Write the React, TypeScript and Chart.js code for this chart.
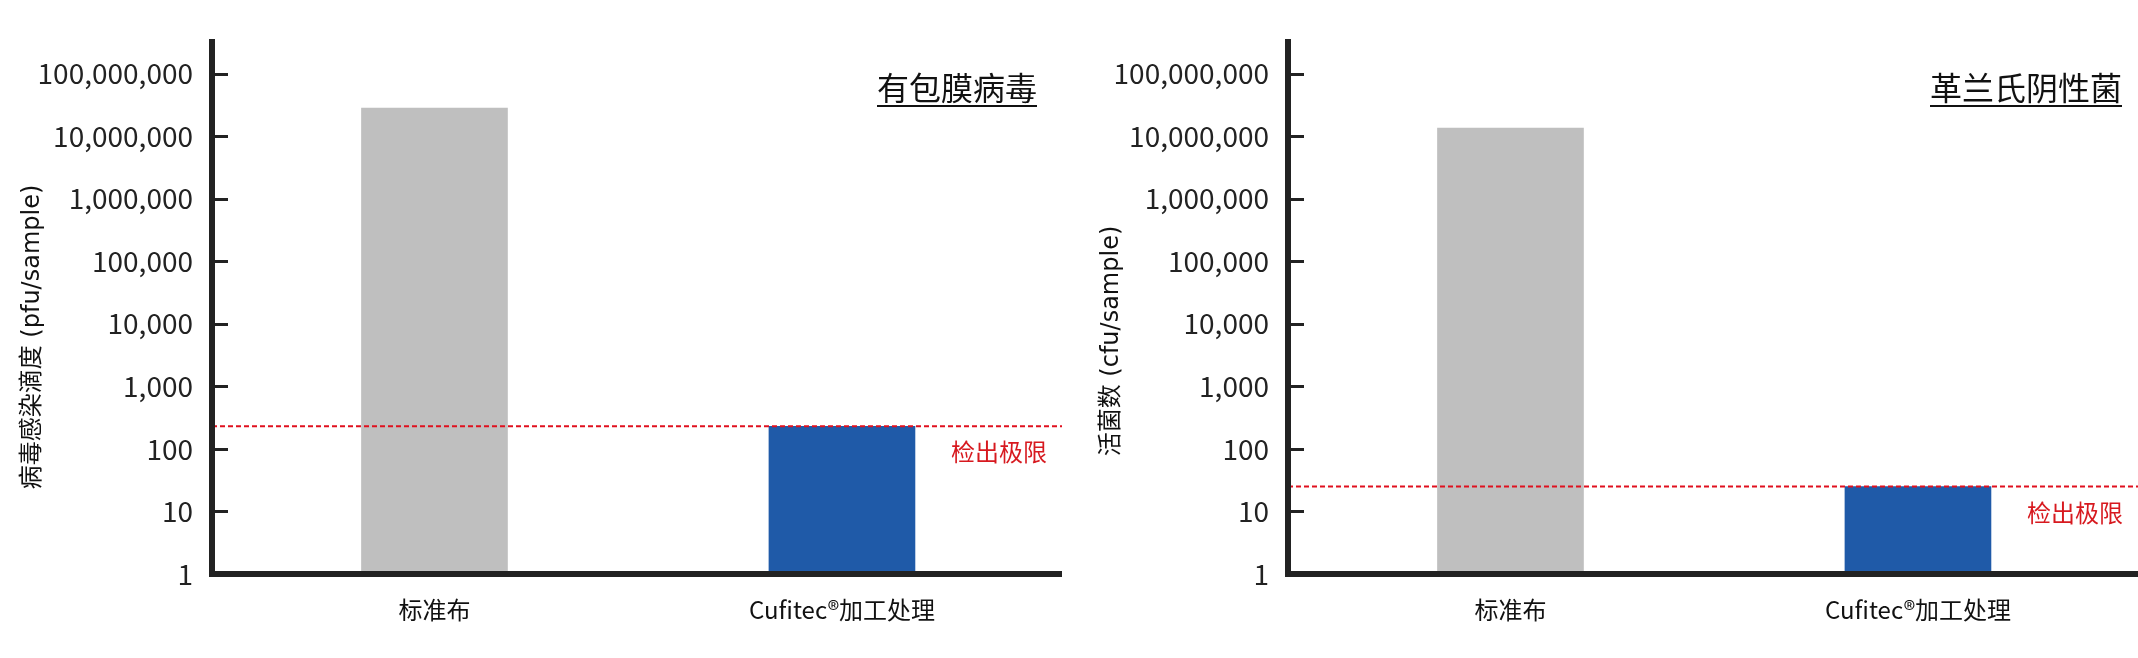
import { useEffect, useRef } from "react"
import { Chart, registerables } from "chart.js"

Chart.register(...registerables)

const CJK = "'Noto Sans CJK SC', sans-serif"
Chart.defaults.font.family = CJK

// data
const categories = ["标准布", "Cufitec®加工处理"]
const virusValues = [2.8e7, 230]
const bacteriaValues = [1.35e7, 25]
const virusLimit = 230
const bacteriaLimit = 25
const yTicks = [1, 10, 100, 1000, 10000, 100000, 1000000, 10000000, 100000000]
const yMax = 3.2e8
const xMin = -0.546
const xMax = 1.54

const barColors = ["#bfbfbf", "#1f5aa8"]
const axisColor = "#222222"
const limitColor = "#e0101e"

interface PanelProps {
  title: string
  yLabel: string
  values: number[]
  limit: number
  left: number
  titleRight: number
  labelX: number
  labelY: number
}

function Panel({ title, yLabel, values, limit, left, titleRight, labelX, labelY }: PanelProps) {
  const canvasRef = useRef<HTMLCanvasElement>(null)

  useEffect(() => {
    if (!canvasRef.current) return
    const ctx = canvasRef.current.getContext("2d")
    if (!ctx) return

    const decorations = {
      id: "decorations",
      afterDraw(chart: Chart) {
        const c = chart.ctx
        const area = chart.chartArea
        const y = chart.scales.y
        c.save()
        // inward tick marks
        c.strokeStyle = axisColor
        c.lineWidth = 3
        yTicks.forEach((v) => {
          if (v === 1) return
          const py = Math.round(y.getPixelForValue(v)) + 0.5
          c.beginPath()
          c.moveTo(area.left, py)
          c.lineTo(area.left + 16, py)
          c.stroke()
        })
        // panel title, underlined
        c.fillStyle = "#111"
        c.font = `32px ${CJK}`
        c.textAlign = "right"
        c.textBaseline = "middle"
        c.fillText(title, titleRight, 88)
        const w = c.measureText(title).width
        c.fillRect(titleRight - w, 105, w, 2)
        // detection limit label
        c.fillStyle = "#d7191f"
        c.font = `24px ${CJK}`
        c.fillText("检出极限", 1047, y.getPixelForValue(limit) + 26)
        // y axis label
        c.translate(labelX, labelY)
        c.rotate(-Math.PI / 2)
        c.textAlign = "center"
        c.fillStyle = "#111"
        c.font = `24px 'DejaVu Sans', ${CJK}`
        c.fillText(yLabel, 0, 0)
        c.restore()
      },
    }

    const chart = new Chart(ctx, {
      type: "bar",
      data: {
        datasets: [
          {
            type: "line",
            data: [
              { x: xMin, y: limit },
              { x: xMax, y: limit },
            ],
            borderColor: limitColor,
            borderWidth: 2,
            borderDash: [5, 3],
            pointRadius: 0,
            order: 0,
          },
          {
            type: "bar",
            data: values.map((v, i) => ({ x: i, y: v })),
            backgroundColor: barColors,
            barThickness: 146,
            order: 1,
          },
        ] as any,
      },
      options: {
        responsive: false,
        animation: false,
        layout: { padding: { top: 42, left: 0, right: 0, bottom: 0 } },
        plugins: {
          legend: { display: false },
          tooltip: { enabled: false },
        },
        scales: {
          x: {
            type: "linear",
            min: xMin,
            max: xMax,
            offset: false,
            grid: { display: false, drawTicks: false, offset: false },
            border: { display: true, color: axisColor, width: 6, z: 1 },
            afterBuildTicks: (s: any) => {
              s.ticks = categories.map((_, i) => ({ value: i }))
            },
            afterFit: (s: any) => {
              s.height = 84
            },
            ticks: {
              autoSkip: false,
              maxRotation: 0,
              padding: 21,
              color: "#111",
              font: { size: 24, family: CJK },
              callback: (v: any) => categories[v] ?? "",
            },
          },
          y: {
            type: "logarithmic",
            min: 1,
            max: yMax,
            grid: { display: false, drawTicks: false },
            border: { display: true, color: axisColor, width: 6, z: 1 },
            afterBuildTicks: (s: any) => {
              s.ticks = yTicks.map((v) => ({ value: v }))
            },
            afterFit: (s: any) => {
              s.width = 212
            },
            ticks: {
              padding: 19,
              color: "#222",
              font: { size: 28, family: CJK },
              callback: (v: any) => Number(v).toLocaleString("en-US"),
            },
          },
        },
      },
      plugins: [decorations],
    })

    return () => chart.destroy()
  }, [title, yLabel, values, limit, titleRight, labelX, labelY])

  return (
    <canvas
      ref={canvasRef}
      width={1062}
      height={658}
      style={{ position: "absolute", left, top: 0, width: 1062, height: 658 }}
    />
  )
}

export default function App() {
  return (
    <div style={{ position: "absolute", left: 0, top: 0, width: 2138, height: 658, background: "#fff" }}>
      <Panel
        title="有包膜病毒"
        yLabel="病毒感染滴度 (pfu/sample)"
        values={virusValues}
        limit={virusLimit}
        left={0}
        titleRight={1037}
        labelX={33}
        labelY={337}
      />
      <Panel
        title="革兰氏阴性菌"
        yLabel="活菌数 (cfu/sample)"
        values={bacteriaValues}
        limit={bacteriaLimit}
        left={1076}
        titleRight={1046}
        labelX={36}
        labelY={341}
      />
    </div>
  )
}
